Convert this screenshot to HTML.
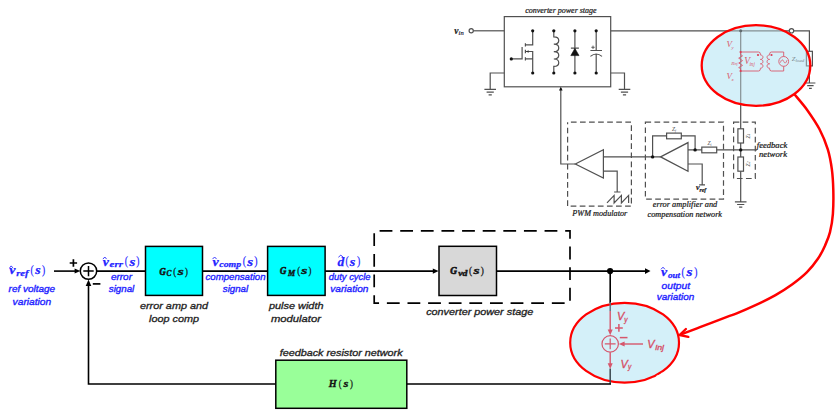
<!DOCTYPE html>
<html><head><meta charset="utf-8">
<style>
html,body{margin:0;padding:0;background:#fff;}
body{width:837px;height:413px;overflow:hidden;}
svg{display:block;}
.lab{font-family:"Liberation Sans",sans-serif;font-style:italic;font-size:9.7px;fill:#222;stroke:#222;stroke-width:0.32px;}
.blu{font-family:"Liberation Sans",sans-serif;font-style:italic;font-size:8.9px;fill:#2424ff;stroke:#2424ff;stroke-width:0.35px;}
.mth{font-family:"Liberation Serif",serif;font-style:italic;font-weight:bold;}
.ckt{font-family:"Liberation Serif",serif;font-style:italic;font-size:8.5px;fill:#1a1a1a;stroke:#1a1a1a;stroke-width:0.22px;}
.pk{font-family:"Liberation Sans",sans-serif;font-style:italic;fill:#d54c64;stroke:#d54c64;stroke-width:0.3px;}
</style></head><body>
<svg width="837" height="413" viewBox="0 0 837 413">
<rect width="837" height="413" fill="#fff"/>

<ellipse cx="756" cy="65.5" rx="54.3" ry="40.3" fill="#d4f0f9"/>
<!-- ================= CIRCUIT (top) ================= -->
<g id="circuit" stroke="#505050" stroke-width="1.2" fill="none">
  <!-- power stage box -->
  <rect x="504.3" y="16.6" width="106.4" height="70.2"/>
  <!-- vin -->
  <circle cx="471.2" cy="30.8" r="2.1" fill="#fff"/>
  <path d="M473.4 30.8H504.3"/>
  <!-- left ground -->
  <path d="M504.3 73H490.2V89.4M484.4 89.4H496M486.6 92.2H493.8M488.6 94.8H491.8"/>
  <!-- right ground -->
  <path d="M610.7 73H624.5V89.4M618.7 89.4H630.3M620.9 92.2H628.1M622.9 94.8H626.1"/>
  <!-- mosfet -->
  <path d="M511.3 58.9H522.1V46.9M525.4 43.2V46.4M525.4 49.8V53.2M525.4 57.3V60.5M525.4 44.8H532.7V30.8M525.4 58.9H532.7V73M525.4 51.5H532.7V58.9"/>
  <path d="M526 51.5L528.6 50.3V52.7Z" fill="#333" stroke="none"/>
  <!-- inductor -->
  <path d="M553.8 30.8V36.8C560.4 36.8 560.4 44.2 553.8 44.2C560.4 44.2 560.4 51.6 553.8 51.6C560.4 51.6 560.4 59 553.8 59C560.4 59 560.4 66.4 553.8 66.4V73"/>
  <!-- diode -->
  <path d="M574.9 30.8V73M570.9 48.2H578.9"/>
  <path d="M574.9 48.4L579 55.6H570.8Z" fill="#111" stroke="#111" stroke-width="0.6"/>
  <!-- capacitor -->
  <path d="M596.2 30.8V50.5M590.4 50.5H602M590.4 56.4Q596.2 51.6 602 56.4M596.2 54.1V73"/>
  <path d="M591.3 47.3H594.7M593 45.6V49" stroke-width="0.9"/>
  <!-- dots -->
  <g fill="#111" stroke="none">
    <circle cx="511.3" cy="58.9" r="1.6"/>
    <circle cx="532.7" cy="30.8" r="1.6"/><circle cx="532.7" cy="73" r="1.6"/>
    <circle cx="553.8" cy="30.8" r="1.6"/><circle cx="553.8" cy="73" r="1.6"/>
    <circle cx="574.9" cy="30.8" r="1.6"/><circle cx="574.9" cy="73" r="1.6"/>
    <circle cx="596.2" cy="30.8" r="1.6"/><circle cx="596.2" cy="73" r="1.6"/>
  </g>
  <!-- top wire to load -->
  <path d="M610.7 30.8H789.3M793.7 30.8H809.4V51.3M809.4 65.9V83M805.4 83H815.4M807.2 85.7H813.6M809 88.3H811.8"/>
  <rect x="806.4" y="51.3" width="6" height="14.6"/>
  <!-- gate drive line -->
  <path d="M560.8 88V164H575.3"/>
  <path d="M560.8 86.8L562.6 90.6H559Z" fill="#111" stroke="none"/>
  <!-- PWM box -->
  <path d="M567.6 122.2H631.4V206.2H567.6Z" stroke-dasharray="5.7 3.37" stroke-dashoffset="-3.3"/>
  <path d="M575.3 164L603.4 149.8V178.1Z"/>
  <path d="M603.4 156.9H652.6M603.4 171.2H617.2V192M614.1 192H620.5"/>
  <path d="M607 202.9L614.1 195.4V202.9L621.4 195.4V202.9L628.6 195.4V202.9"/>
  <!-- error amp box -->
  <path d="M645.4 122.2H723.5V199.2H645.4Z" stroke-dasharray="5.7 3.37"/>
  <path d="M660.6 156.9L688 142.6V171.2Z"/>
  <path d="M652.6 156.9H660.6M652.6 156.9V135.9H666.6M681.3 135.9H695.1V149.9M688 149.9H701.8M716.7 149.9H757"/>
  <rect x="666.6" y="133.1" width="14.7" height="5.7"/>
  <rect x="701.8" y="147.1" width="14.9" height="5.7"/>
  <path d="M688 164H702.2V184.8M699.2 184.8H705"/>
  <!-- feedback net -->
  <path d="M733.6 122.2H755.3V178.5H733.6Z" stroke-dasharray="5.7 3.37"/>
  <path d="M740.7 30.8V128.8M740.7 143V157M740.7 171.2V201.8M734.9 201.8H746.5M737.1 204.5H744.3M739.1 207.1H742.3"/>
  <rect x="737.9" y="128.8" width="5.6" height="14.2"/>
  <rect x="737.9" y="157" width="5.6" height="14.2"/>
  <g fill="#111" stroke="none">
    <circle cx="652.6" cy="156.9" r="1.7"/>
    <circle cx="695.1" cy="149.9" r="1.7"/>
    <circle cx="740.7" cy="149.9" r="1.7"/>
    <circle cx="740.7" cy="30.8" r="1.5"/>
  </g>
  <circle cx="791.5" cy="30.8" r="2.2" fill="#fff"/>
</g>
<g class="ckt" text-anchor="middle">
  <text x="560.9" y="12.6" textLength="71.5" lengthAdjust="spacingAndGlyphs">converter power stage</text>
  <text x="459" y="33.6" font-weight="bold" font-size="9.5">v<tspan font-size="6.5" dy="1.8" font-weight="normal" fill="#336">in</tspan></text>
  <text x="599.8" y="215.8" textLength="55" lengthAdjust="spacingAndGlyphs">PWM modulator</text>
  <text x="685" y="207.4" textLength="64.5" lengthAdjust="spacingAndGlyphs">error amplifier and</text>
  <text x="684.8" y="217.3" textLength="74.5" lengthAdjust="spacingAndGlyphs">compensation network</text>
  <text x="772" y="147.8" textLength="30.5" lengthAdjust="spacingAndGlyphs">feedback</text>
  <text x="773" y="157" textLength="28" lengthAdjust="spacingAndGlyphs">network</text>
  <text x="701" y="190.2" font-size="8" font-weight="bold">v<tspan font-size="5.5" dy="1.4">ref</tspan></text>
  <text x="674" y="131" font-size="5.5" stroke="none" fill="#444">Z<tspan font-size="3.5" dy="0.8">f</tspan></text>
  <text x="709.5" y="145" font-size="5.5" stroke="none" fill="#444">Z<tspan font-size="3.5" dy="0.8">i</tspan></text>
  <text transform="translate(749.5 136) rotate(-90)" font-size="5.5" stroke="none" fill="#444">Z<tspan font-size="3.5" dy="0.8">1</tspan></text>
  <text transform="translate(749.5 164) rotate(-90)" font-size="5.5" stroke="none" fill="#444">Z<tspan font-size="3.5" dy="0.8">2</tspan></text>
  <text x="798" y="61" font-size="6.5" stroke="none" fill="#333" textLength="12.4" lengthAdjust="spacingAndGlyphs">Z<tspan font-size="4.8" dy="0.8">load</tspan></text>
</g>

<!-- ================= top ellipse ================= -->
<ellipse cx="756" cy="65.5" rx="54.3" ry="40.3" fill="#d4f0f9" fill-opacity="0.4" stroke="#ff0000" stroke-width="2.3"/>
<g stroke="#d9586c" stroke-width="0.9" fill="none">
  <path d="M740.6 52V54.6L742.5 55.8L738.7 58.2L742.5 60.6L738.7 63L742.5 65.4L738.7 67.6L740.6 68.6V71"/>
  <path d="M740.6 52H758.6Q760.4 52 760.4 54.2V55C763.8 55.0 763.8 59.4 760.4 59.4C763.8 59.4 763.8 63.8 760.4 63.8C763.8 63.8 763.8 68.2 760.4 68.2V68.8Q760.4 71 758.6 71H740.6"/>
  <path d="M783.7 56.5V52H771.4Q769.6 52 769.6 54.2V55C766.2 55.0 766.2 59.4 769.6 59.4C766.2 59.4 766.2 63.8 769.6 63.8C766.2 63.8 766.2 68.2 769.6 68.2V68.8Q769.6 71 771.4 71H783.7V66.3"/>
  <circle cx="783.7" cy="61.4" r="4.9"/>
  <path d="M780.4 62.6Q782 57.6 783.7 61.4T787 60.2" stroke-width="0.8"/>
  <g fill="#dc3c55" stroke="none">
    <circle cx="740.6" cy="52" r="1.1"/><circle cx="740.6" cy="71" r="1.1"/>
    <circle cx="758" cy="55" r="1.1"/><circle cx="771.5" cy="55" r="1.1"/>
  </g>
</g>
<g font-family="Liberation Serif" font-style="italic" fill="#d9586c">
  <text x="726.4" y="47" font-size="9">V<tspan font-size="5" dy="1.6" dx="-0.5">y</tspan></text>
  <text x="726.4" y="79" font-size="9">V<tspan font-size="5" dy="1.6" dx="-0.5">x</tspan></text>
  <text x="744.2" y="64.3" font-size="9.5">V<tspan font-size="5.2" dy="1.8" dx="-0.6">inj</tspan></text>
  <text x="731.2" y="64.6" font-size="5" stroke="none">R<tspan font-size="3.2" dy="0.6">inj</tspan></text>
</g>

<!-- ================= red curve ================= -->
<path d="M794.6 94.5C796.8 97.2 803.4 104.7 807.5 110.4C811.6 116.2 816.0 122.5 819.4 129.0C822.8 135.5 825.7 142.6 827.8 149.4C829.9 156.2 831.0 162.9 831.9 169.7C832.8 176.5 833.1 182.7 833.3 190.0C833.5 197.3 833.4 206.8 832.9 213.8C832.4 220.8 831.3 226.8 830.0 232.1C828.7 237.4 827.1 240.9 825.1 245.4C823.1 249.9 820.9 254.4 817.9 258.8C814.9 263.2 811.2 267.9 807.0 272.1C802.8 276.3 797.6 280.4 792.4 284.2C787.1 288.0 781.5 291.7 775.5 295.1C769.5 298.5 762.6 301.8 756.1 304.8C749.6 307.8 741.6 311.3 736.7 313.3C731.9 315.3 733.1 314.6 727.0 316.9C720.9 319.2 707.8 324.2 700.0 327.2C692.2 330.2 683.6 333.4 680.3 334.7" fill="none" stroke="#ff0000" stroke-width="2.5"/>
<path d="M685.9 329L679.6 335L688.3 336.9" fill="none" stroke="#ff0000" stroke-width="2.4" stroke-linejoin="miter" stroke-linecap="round"/>

<!-- ================= bottom ellipse ================= -->
<ellipse cx="624.6" cy="342.7" rx="54.4" ry="39.9" fill="#d4f0f9" stroke="#ff0000" stroke-width="2.2"/>

<!-- ================= BLOCK DIAGRAM ================= -->
<g stroke="#000" stroke-width="1.6" fill="none">
  <path d="M54 271.1H76.5"/>
  <path d="M96.7 271.1H145.5M202.5 271.1H267.6M325.1 271.1H434M496.5 271.1H645"/>
  <path d="M610.2 271.1V303"/>
  <path d="M610.2 383V384H406.8M275.8 384H88.5V284"/>
  <circle cx="88.5" cy="271.1" r="8.2" fill="#fff" stroke-width="1.5"/>
  <path d="M83.3 271.1H93.7M88.5 265.9V276.3" stroke-width="1.5"/>
  <path d="M374.2 230.8H570V303.1H374.2Z" stroke-dasharray="12.8 7.82" stroke-dashoffset="-5.4" stroke-width="1.7"/>
</g>
<g fill="#000" stroke="none">
  <path d="M80.4 271.1L74.6 268.6V273.6Z"/>
  <path d="M438.6 271.1L432.8 268.5V273.7Z"/>
  <path d="M650.5 271.1L645 268.3V273.9Z"/>
  <path d="M88.5 279.5L85.7 286.1H91.3Z"/>
  <circle cx="610.1" cy="271.1" r="3.1"/>
</g>
<g stroke="#000" stroke-width="1.5">
  <rect x="145.5" y="246.4" width="57" height="49" fill="#00ffff"/>
  <rect x="267.6" y="246.4" width="57.5" height="49" fill="#00ffff"/>
  <rect x="439" y="246.3" width="57.5" height="49.2" fill="#d8d8d8"/>
  <rect x="275.8" y="360.2" width="131" height="48.1" fill="#99ff99"/>
</g>
<!-- plus / minus -->
<path d="M69.7 263H77.1M73.4 259.3V266.7" stroke="#000" stroke-width="1.7" fill="none"/>
<path d="M92.8 283.9H100.4" stroke="#000" stroke-width="1.7" fill="none"/>

<!-- inside-ellipse line (greyed) -->
<path d="M610.2 302V311" stroke="#5a6b78" stroke-width="1.4"/>
<g stroke="#d6566c" stroke-width="1.4" fill="none">
  <path d="M610.2 311V331M610.2 352.2V365"/>
  <path d="M643 344H622"/>
  <circle cx="610.2" cy="343.9" r="8.2" stroke-width="1.2"/>
  <path d="M604.8 343.9H615.6M610.2 338.5V349.3" stroke-width="1.2"/>
  <path d="M615 327.9H622.8M618.9 324V331.8" stroke-width="1.5"/>
  <path d="M619.8 337.6H627.5" stroke-width="1.5"/>
</g>
<path d="M610.2 368.5V383.5" stroke="#3c4850" stroke-width="1.5"/>
<g fill="#d6566c" stroke="none">
  <path d="M610.2 335.3L607.7 329.5H612.7Z"/>
  <path d="M610.2 369L607.7 363.2H612.7Z"/>
  <path d="M618.8 344L624.6 341.5V346.5Z"/>
</g>
<g class="pk">
  <text x="617" y="320.3" font-size="11">V<tspan font-size="6.5" dy="1.4">y</tspan></text>
  <text x="620.6" y="367.6" font-size="11">V<tspan font-size="6.5" dy="1.4">y</tspan></text>
  <text x="647.3" y="347.8" font-size="11">V</text><text x="655.2" y="349.8" font-size="7.5" textLength="8.8" lengthAdjust="spacingAndGlyphs">inj</text>
</g>

<g fill="#fff"><circle cx="657.8" cy="376.3" r="1.5" opacity="0.55"/><circle cx="653" cy="378.8" r="1.1" opacity="0.45"/><circle cx="662" cy="373.6" r="1" opacity="0.4"/></g>
<g fill="#2424ff" font-family="Liberation Serif">
<text x="9.2" y="273.8" font-size="12" textLength="6.2" lengthAdjust="spacingAndGlyphs" font-style="italic" font-weight="bold" stroke="#2424ff" stroke-width="0.25">v</text>
<text x="16.2" y="275.6" font-size="9.2" textLength="12.4" lengthAdjust="spacingAndGlyphs" font-style="italic" font-weight="bold" stroke="#2424ff" stroke-width="0.25">ref</text>
<text x="30.4" y="273.6" font-size="13" textLength="3.2" lengthAdjust="spacingAndGlyphs" stroke="#2424ff" stroke-width="0.2">(</text>
<text x="35.2" y="273.8" font-size="12" textLength="5.4" lengthAdjust="spacingAndGlyphs" font-style="italic" font-weight="bold" stroke="#2424ff" stroke-width="0.25">s</text>
<text x="42.0" y="273.6" font-size="13" textLength="3.2" lengthAdjust="spacingAndGlyphs" stroke="#2424ff" stroke-width="0.2">)</text>
</g>
<path d="M9.6 267.9L11.2 265.9L12.9 267.9" stroke="#2424ff" stroke-width="0.9" fill="none"/>
<g fill="#2424ff" font-family="Liberation Serif">
<text x="102.8" y="265.5" font-size="12" textLength="6.1" lengthAdjust="spacingAndGlyphs" font-style="italic" font-weight="bold" stroke="#2424ff" stroke-width="0.25">v</text>
<text x="109.6" y="267.3" font-size="9.2" textLength="13.4" lengthAdjust="spacingAndGlyphs" font-style="italic" font-weight="bold" stroke="#2424ff" stroke-width="0.25">err</text>
<text x="124.8" y="265.3" font-size="13" textLength="3.2" lengthAdjust="spacingAndGlyphs" stroke="#2424ff" stroke-width="0.2">(</text>
<text x="129.5" y="265.5" font-size="12" textLength="5.9" lengthAdjust="spacingAndGlyphs" font-style="italic" font-weight="bold" stroke="#2424ff" stroke-width="0.25">s</text>
<text x="136.3" y="265.3" font-size="13" textLength="3.2" lengthAdjust="spacingAndGlyphs" stroke="#2424ff" stroke-width="0.2">)</text>
</g>
<path d="M102.9 259.1L104.8 257.0L106.6 259.1" stroke="#2424ff" stroke-width="0.9" fill="none"/>
<g fill="#2424ff" font-family="Liberation Serif">
<text x="212.4" y="265.5" font-size="12" textLength="6.2" lengthAdjust="spacingAndGlyphs" font-style="italic" font-weight="bold" stroke="#2424ff" stroke-width="0.25">v</text>
<text x="219.3" y="267.3" font-size="9.2" textLength="21.9" lengthAdjust="spacingAndGlyphs" font-style="italic" font-weight="bold" stroke="#2424ff" stroke-width="0.25">comp</text>
<text x="242.7" y="265.3" font-size="13" textLength="3.3" lengthAdjust="spacingAndGlyphs" stroke="#2424ff" stroke-width="0.2">(</text>
<text x="247.3" y="265.5" font-size="12" textLength="5.9" lengthAdjust="spacingAndGlyphs" font-style="italic" font-weight="bold" stroke="#2424ff" stroke-width="0.25">s</text>
<text x="254.3" y="265.3" font-size="13" textLength="3.3" lengthAdjust="spacingAndGlyphs" stroke="#2424ff" stroke-width="0.2">)</text>
</g>
<path d="M212.5 259.1L214.6 257.0L216.6 259.1" stroke="#2424ff" stroke-width="0.9" fill="none"/>
<g fill="#2424ff" font-family="Liberation Serif">
<text x="337.6" y="265.7" font-size="13" textLength="6.8" lengthAdjust="spacingAndGlyphs" font-style="italic" font-weight="bold" stroke="#2424ff" stroke-width="0.25">d</text>
<text x="345.4" y="265.4" font-size="13" textLength="3.2" lengthAdjust="spacingAndGlyphs" stroke="#2424ff" stroke-width="0.2">(</text>
<text x="349.8" y="265.7" font-size="12" textLength="5.6" lengthAdjust="spacingAndGlyphs" font-style="italic" font-weight="bold" stroke="#2424ff" stroke-width="0.25">s</text>
<text x="357.0" y="265.4" font-size="13" textLength="3.3" lengthAdjust="spacingAndGlyphs" stroke="#2424ff" stroke-width="0.2">)</text>
</g>
<path d="M338.4 257.2L340.8 255.2L343.2 257.2" stroke="#2424ff" stroke-width="0.9" fill="none"/>
<g fill="#2424ff" font-family="Liberation Serif">
<text x="660.9" y="275.7" font-size="12" textLength="6.1" lengthAdjust="spacingAndGlyphs" font-style="italic" font-weight="bold" stroke="#2424ff" stroke-width="0.25">v</text>
<text x="667.9" y="277.7" font-size="9.2" textLength="12.3" lengthAdjust="spacingAndGlyphs" font-style="italic" font-weight="bold" stroke="#2424ff" stroke-width="0.25">out</text>
<text x="681.6" y="275.5" font-size="13" textLength="3.3" lengthAdjust="spacingAndGlyphs" stroke="#2424ff" stroke-width="0.2">(</text>
<text x="686.6" y="275.7" font-size="12" textLength="6.0" lengthAdjust="spacingAndGlyphs" font-style="italic" font-weight="bold" stroke="#2424ff" stroke-width="0.25">s</text>
<text x="694.2" y="275.5" font-size="13" textLength="3.2" lengthAdjust="spacingAndGlyphs" stroke="#2424ff" stroke-width="0.2">)</text>
</g>
<path d="M661.0 269.3L663.0 267.2L664.9 269.3" stroke="#2424ff" stroke-width="0.9" fill="none"/>
<g fill="#141414" font-family="Liberation Serif">
<text x="159.6" y="274.5" font-size="10.3" textLength="6.2" lengthAdjust="spacingAndGlyphs" font-style="italic" font-weight="bold" stroke="#141414" stroke-width="0.7" stroke-linejoin="round">G</text>
<text x="166.5" y="276.4" font-size="7.7" textLength="4.9" lengthAdjust="spacingAndGlyphs" font-style="italic" font-weight="bold" stroke="#141414" stroke-width="0.4" stroke-linejoin="round">C</text>
<text x="173.2" y="274.5" font-size="11.2" textLength="2.9" lengthAdjust="spacingAndGlyphs" stroke="#141414" stroke-width="0.3">(</text>
<text x="177.8" y="274.5" font-size="11" textLength="6.0" lengthAdjust="spacingAndGlyphs" font-style="italic" font-weight="bold" stroke="#141414" stroke-width="0.35">s</text>
<text x="185.0" y="274.5" font-size="11.2" textLength="2.9" lengthAdjust="spacingAndGlyphs" stroke="#141414" stroke-width="0.3">)</text>
</g>
<g fill="#141414" font-family="Liberation Serif">
<text x="280.0" y="274.2" font-size="10.3" textLength="6.3" lengthAdjust="spacingAndGlyphs" font-style="italic" font-weight="bold" stroke="#141414" stroke-width="0.7" stroke-linejoin="round">G</text>
<text x="288.0" y="276.0" font-size="7.7" textLength="7.2" lengthAdjust="spacingAndGlyphs" font-style="italic" font-weight="bold" stroke="#141414" stroke-width="0.4" stroke-linejoin="round">M</text>
<text x="297.2" y="274.3" font-size="11.2" textLength="2.9" lengthAdjust="spacingAndGlyphs" stroke="#141414" stroke-width="0.3">(</text>
<text x="301.3" y="274.2" font-size="11" textLength="6.1" lengthAdjust="spacingAndGlyphs" font-style="italic" font-weight="bold" stroke="#141414" stroke-width="0.35">s</text>
<text x="308.5" y="274.3" font-size="11.2" textLength="2.9" lengthAdjust="spacingAndGlyphs" stroke="#141414" stroke-width="0.3">)</text>
</g>
<g fill="#141414" font-family="Liberation Serif">
<text x="450.2" y="273.8" font-size="10.3" textLength="6.7" lengthAdjust="spacingAndGlyphs" font-style="italic" font-weight="bold" stroke="#141414" stroke-width="0.7" stroke-linejoin="round">G</text>
<text x="458.2" y="275.8" font-size="7.7" textLength="9.3" lengthAdjust="spacingAndGlyphs" font-style="italic" font-weight="bold" stroke="#141414" stroke-width="0.4" stroke-linejoin="round">vd</text>
<text x="469.1" y="274.0" font-size="11.2" textLength="3.1" lengthAdjust="spacingAndGlyphs" stroke="#141414" stroke-width="0.3">(</text>
<text x="473.5" y="273.8" font-size="11" textLength="6.1" lengthAdjust="spacingAndGlyphs" font-style="italic" font-weight="bold" stroke="#141414" stroke-width="0.35">s</text>
<text x="480.8" y="274.0" font-size="11.2" textLength="3.1" lengthAdjust="spacingAndGlyphs" stroke="#141414" stroke-width="0.3">)</text>
</g>
<g fill="#141414" font-family="Liberation Serif">
<text x="328.8" y="386.8" font-size="10" textLength="7.9" lengthAdjust="spacingAndGlyphs" font-style="italic" font-weight="bold" stroke="#141414" stroke-width="0.35">H</text>
<text x="338.8" y="387.0" font-size="11.2" textLength="2.8" lengthAdjust="spacingAndGlyphs" stroke="#141414" stroke-width="0.3">(</text>
<text x="343.4" y="386.8" font-size="11" textLength="4.9" lengthAdjust="spacingAndGlyphs" font-style="italic" font-weight="bold" stroke="#141414" stroke-width="0.35">s</text>
<text x="349.9" y="387.0" font-size="11.2" textLength="2.9" lengthAdjust="spacingAndGlyphs" stroke="#141414" stroke-width="0.3">)</text>
</g>
<text class="blu" x="8.6" y="292.0" textLength="46.4" lengthAdjust="spacingAndGlyphs">ref voltage</text>
<text class="blu" x="12.6" y="304.5" textLength="38.6" lengthAdjust="spacingAndGlyphs">variation</text>
<text class="blu" x="110.9" y="279.9" textLength="21.1" lengthAdjust="spacingAndGlyphs">error</text>
<text class="blu" x="108.8" y="292.4" textLength="25.5" lengthAdjust="spacingAndGlyphs">signal</text>
<text class="blu" x="205.5" y="279.9" textLength="60.0" lengthAdjust="spacingAndGlyphs">compensation</text>
<text class="blu" x="222.8" y="292.4" textLength="25.4" lengthAdjust="spacingAndGlyphs">signal</text>
<text class="blu" x="328.8" y="280.1" textLength="41.8" lengthAdjust="spacingAndGlyphs">duty cycle</text>
<text class="blu" x="330.3" y="292.4" textLength="38.2" lengthAdjust="spacingAndGlyphs">variation</text>
<text class="blu" x="661.6" y="288.6" textLength="28.4" lengthAdjust="spacingAndGlyphs">output</text>
<text class="blu" x="656.8" y="300.2" textLength="37.5" lengthAdjust="spacingAndGlyphs">variation</text>
<text class="lab" x="140.0" y="308.6" textLength="68.0" lengthAdjust="spacingAndGlyphs">error amp and</text>
<text class="lab" x="149.0" y="322.4" textLength="50.0" lengthAdjust="spacingAndGlyphs">loop comp</text>
<text class="lab" x="269.0" y="308.6" textLength="54.5" lengthAdjust="spacingAndGlyphs">pulse width</text>
<text class="lab" x="271.0" y="322.1" textLength="50.0" lengthAdjust="spacingAndGlyphs">modulator</text>
<text class="lab" x="426.2" y="315.3" textLength="107.0" lengthAdjust="spacingAndGlyphs">converter power stage</text>
<text class="lab" x="279.7" y="355.6" textLength="122.9" lengthAdjust="spacingAndGlyphs">feedback resistor network</text>
</svg>
</body></html>
